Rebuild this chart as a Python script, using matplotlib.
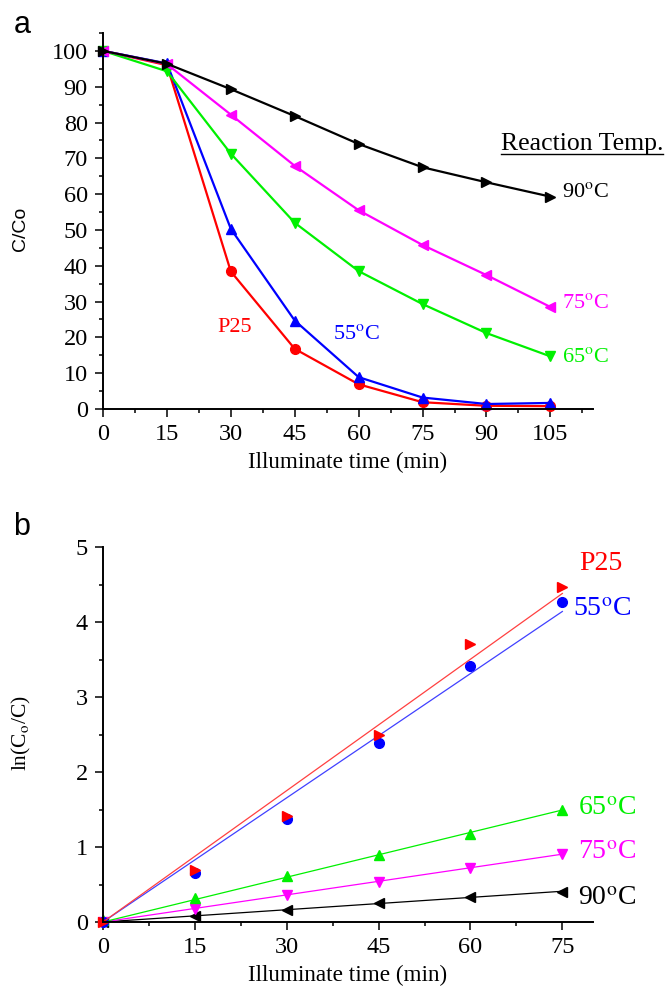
"""
Two-panel photodegradation plot: C/Co decay and ln(Co/C) kinetics.
"""
import numpy as np
import matplotlib
matplotlib.use("Agg")
import matplotlib.pyplot as plt
from matplotlib.ticker import MultipleLocator
from matplotlib.lines import Line2D

plt.rcParams["font.family"] = "Liberation Serif"
plt.rcParams["mathtext.fontset"] = "stix"

# panel a: C/Co (%) vs illumination time
time_a = [0, 15, 30, 45, 60, 75, 90, 105]
p25_a = [100, 96.0, 38.4, 16.8, 6.9, 1.9, 0.9, 0.8]
t55_a = [100, 96.5, 50.3, 24.7, 8.9, 3.2, 1.4, 1.7]
t65_a = [100, 94.3, 71.3, 52.0, 38.5, 29.3, 21.2, 14.7]
t75_a = [100, 96.3, 82.2, 67.9, 55.5, 45.8, 37.4, 28.5]
t90_a = [100, 96.4, 89.3, 81.8, 74.0, 67.5, 63.3, 59.3]

# panel b: ln(Co/C) vs illumination time
time_b = [0, 15, 30, 45, 60, 75]
p25_b = [0.0, 0.69, 1.42, 2.49, 3.71, 4.47]
t55_b = [0.0, 0.65, 1.37, 2.39, 3.41, 4.27]
t65_b = [0.03, 0.32, 0.62, 0.90, 1.18, 1.49]
t75_b = [0.0, 0.18, 0.36, 0.54, 0.72, 0.91]
t90_b = [0.0, 0.08, 0.16, 0.25, 0.34, 0.40]

RED, BLUE, GREEN, MAG, BLACK = "#ff0000", "#0000ff", "#00f000", "#ff00ff", "#000000"


def style_axes(ax):
    for s in ("top", "right"):
        ax.spines[s].set_visible(False)
    for s in ("left", "bottom"):
        ax.spines[s].set_linewidth(1.4)
    ax.tick_params(which="major", direction="out", length=6, width=1.1, pad=5,
                   labelsize=17.5)
    ax.tick_params(which="minor", direction="out", length=3, width=1.1)


def origin_fit(x, y):
    x = np.asarray(x, float)
    y = np.asarray(y, float)
    k = (x * y).sum() / (x * x).sum()
    return k * x


fig = plt.figure(figsize=(6.68, 9.93), dpi=100)

# ---- panel a ----
ax = fig.add_axes([0.1542, 0.5881, 0.7335, 0.3787])
style_axes(ax)
kw = dict(lw=1.6, ms=7, clip_on=False)
ax.plot(time_a, p25_a, "-o", color=RED, **kw)
ax.plot(time_a, t55_a, "-^", color=BLUE, **kw)
ax.plot(time_a, t65_a, "-v", color=GREEN, **kw)
ax.plot(time_a, t75_a, "-<", color=MAG, **kw)
ax.plot(time_a, t90_a, "->", color=BLACK, **kw)
ax.set_xlim(0, 115)
ax.set_ylim(0, 105)
ax.xaxis.set_major_locator(MultipleLocator(15))
ax.xaxis.set_minor_locator(MultipleLocator(7.5))
ax.yaxis.set_major_locator(MultipleLocator(10))
ax.yaxis.set_minor_locator(MultipleLocator(5))
ax.set_xlabel("Illuminate time (min)", fontsize=16.7, labelpad=5)
ax.set_ylabel("C/Co", fontsize=14, family="Liberation Sans")
ax.yaxis.set_label_coords(-0.151, 0.48)

deg = "$^{\\mathrm{o}}$C"
rt = ax.text(93.4, 74.0, "Reaction Temp.", fontsize=18.5, ha="left", va="center")
ax.text(107.7, 60.4, "90" + deg, fontsize=16, ha="left", va="center", color=BLACK)
ax.text(107.7, 29.4, "75" + deg, fontsize=16, ha="left", va="center", color=MAG)
ax.text(107.7, 14.5, "65" + deg, fontsize=16, ha="left", va="center", color=GREEN)
ax.text(30.9, 22.9, "P25", fontsize=16, ha="center", va="center", color=RED)
ax.text(59.5, 20.8, "55" + deg, fontsize=16, ha="center", va="center", color=BLUE)
fig.text(0.02, 0.975, "a", fontsize=22, family="Liberation Sans", va="center")

# underline for the "Reaction Temp." heading
fig.canvas.draw()
bb = rt.get_window_extent().transformed(fig.transFigure.inverted())
fig.add_artist(Line2D([bb.x0, bb.x1], [bb.y0 + 0.001, bb.y0 + 0.001],
                      color="black", lw=1.0, transform=fig.transFigure))

# ---- panel b ----
bx = fig.add_axes([0.1542, 0.0715, 0.7335, 0.3776])
style_axes(bx)
mk = dict(ms=7, ls="none", clip_on=False)
fit = dict(lw=0.9)
tb = np.asarray(time_b, float)
bx.plot(tb, origin_fit(time_b, t90_b), color=BLACK, **fit)
bx.plot(time_b, t90_b, "<", color=BLACK, **mk)
bx.plot(tb, origin_fit(time_b, t75_b), color=MAG, **fit)
bx.plot(time_b, t75_b, "v", color=MAG, **mk)
bx.plot(tb, origin_fit(time_b, t65_b), color=GREEN, **fit)
bx.plot(time_b, t65_b, "^", color=GREEN, **mk)
bx.plot(tb, origin_fit(time_b, t55_b), color="#4040ff", **fit)
bx.plot(time_b, t55_b, "o", color=BLUE, **mk)
bx.plot(tb, origin_fit(time_b, p25_b), color="#ff4040", **fit)
bx.plot(time_b, p25_b, ">", color=RED, **mk)
bx.set_xlim(0, 80)
bx.set_ylim(0, 5)
bx.xaxis.set_major_locator(MultipleLocator(15))
bx.xaxis.set_minor_locator(MultipleLocator(7.5))
bx.yaxis.set_major_locator(MultipleLocator(1))
bx.yaxis.set_minor_locator(MultipleLocator(0.5))
bx.set_xlabel("Illuminate time (min)", fontsize=16.7, labelpad=5)
bx.set_ylabel("ln(C$_{\\mathrm{o}}$/C)", fontsize=15.5)
bx.yaxis.set_label_coords(-0.143, 0.504)

bx.text(77.8, 4.78, "P25", fontsize=20, ha="left", va="center", color=RED)
bx.text(76.7, 4.17, "55" + deg, fontsize=20, ha="left", va="center", color=BLUE)
bx.text(77.5, 1.52, "65" + deg, fontsize=20, ha="left", va="center", color=GREEN)
bx.text(77.5, 0.93, "75" + deg, fontsize=20, ha="left", va="center", color=MAG)
bx.text(77.5, 0.32, "90" + deg, fontsize=20, ha="left", va="center", color=BLACK)
fig.text(0.02, 0.4695, "b", fontsize=22, family="Liberation Sans", va="center")

fig.savefig("out.png", dpi=100)
print("Saved out.png")
